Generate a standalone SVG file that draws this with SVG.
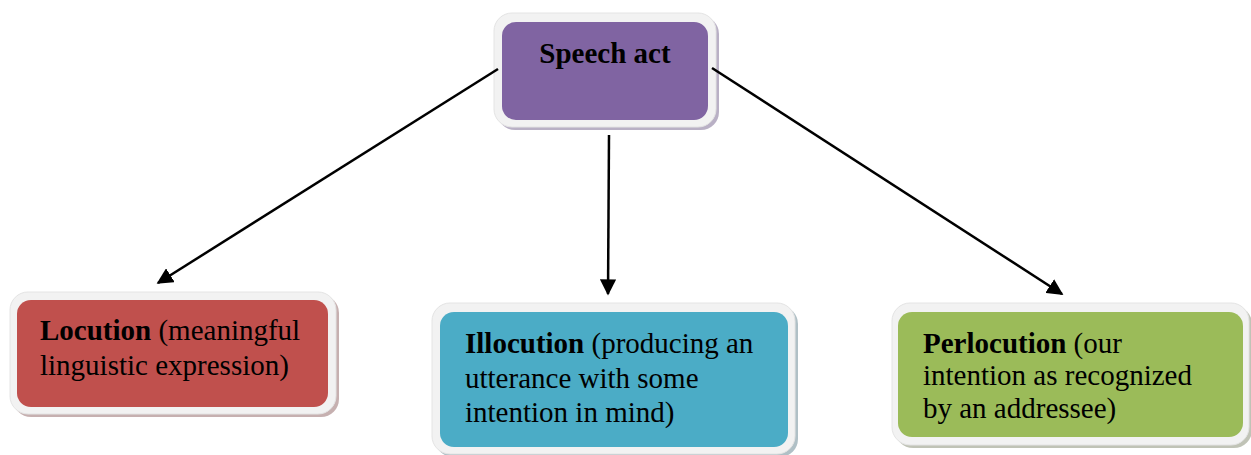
<svg xmlns="http://www.w3.org/2000/svg" width="1251" height="455" viewBox="0 0 1251 455">
<style>
.frame{fill:#f2f2f2;stroke:#e4e4e4;stroke-width:1}
.shadow{opacity:0.8}
.t{font-family:"Liberation Serif","Times New Roman",serif;font-size:29px;fill:#000}
.b{font-weight:bold}
.conn{stroke:#000;stroke-width:2.5;fill:none;marker-end:url(#ah)}
</style>
<defs>
<marker id="ah" viewBox="0 0 10 10" refX="9" refY="5" markerWidth="6.5" markerHeight="6.5" orient="auto" markerUnits="strokeWidth">
<path d="M0,0 L10,5 L0,10 z" fill="#000"/>
</marker>
</defs>
<rect width="1251" height="455" fill="#fff"/>
<g id="speech-act">
<rect class="shadow" x="497" y="16" width="222" height="114" rx="18" fill="#a79cb6"/>
<rect class="frame" x="494" y="13" width="222" height="114" rx="18"/>
<rect x="502" y="22" width="206" height="98" rx="14" fill="#8064a2"/>
<text class="t b" x="605" y="63" text-anchor="middle">Speech act</text>
</g>
<g id="locution">
<rect class="shadow" x="13" y="295" width="326" height="122" rx="18" fill="#b89c9c"/>
<rect class="frame" x="10" y="292" width="326" height="122" rx="18"/>
<rect x="17" y="300" width="311" height="107" rx="14" fill="#c0504d"/>
<text class="t" x="40" y="340"><tspan class="b">Locution</tspan> (meaningful</text>
<text class="t" x="40" y="375">linguistic expression)</text>
</g>
<g id="illocution">
<rect class="shadow" x="435" y="306" width="363" height="151" rx="18" fill="#9cb0b8"/>
<rect class="frame" x="432" y="303" width="363" height="151" rx="18"/>
<rect x="440" y="312" width="348" height="135" rx="14" fill="#4bacc6"/>
<text class="t" x="465" y="353"><tspan class="b">Illocution</tspan> (producing an</text>
<text class="t" x="465" y="388">utterance with some</text>
<text class="t" x="465" y="422">intention in mind)</text>
</g>
<g id="perlocution">
<rect class="shadow" x="895" y="306" width="357" height="142" rx="18" fill="#b0b4a4"/>
<rect class="frame" x="892" y="303" width="357" height="142" rx="18"/>
<rect x="898" y="312" width="345" height="125" rx="14" fill="#9bbb59"/>
<text class="t" x="923" y="353"><tspan class="b">Perlocution</tspan> (our</text>
<text class="t" x="923" y="385">intention as recognized</text>
<text class="t" x="923" y="418">by an addressee)</text>
</g>
<g id="connectors">
<line class="conn" x1="498" y1="69" x2="158" y2="283"/>
<line class="conn" x1="609" y1="135" x2="608" y2="294"/>
<line class="conn" x1="712" y1="68" x2="1062" y2="294"/>
</g>
</svg>
